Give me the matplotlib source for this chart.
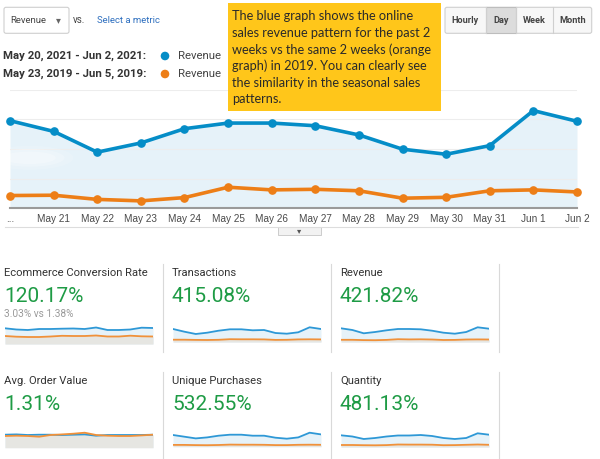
import matplotlib
matplotlib.use("Agg")
import matplotlib.pyplot as plt
from matplotlib.patches import Rectangle, FancyBboxPatch, Ellipse, Circle
import numpy as np

# ---------------- data ----------------
days = ["May 20", "May 21", "May 22", "May 23", "May 24", "May 25", "May 26",
        "May 27", "May 28", "May 29", "May 30", "May 31", "Jun 1", "Jun 2"]
tick_labels = ["...", "May 21", "May 22", "May 23", "May 24", "May 25", "May 26",
               "May 27", "May 28", "May 29", "May 30", "May 31", "Jun 1", "Jun 2"]
rev_2021 = [2950, 2590, 1890, 2200, 2680, 2870, 2870, 2780, 2470, 1990, 1820, 2110, 3290, 2930]
rev_2019 = [430, 440, 300, 250, 360, 710, 620, 640, 590, 340, 370, 590, 620, 550]

panel_titles = ["Ecommerce Conversion Rate", "Transactions", "Revenue",
                "Avg. Order Value", "Unique Purchases", "Quantity"]
panel_values = ["120.17%", "415.08%", "421.82%", "1.31%", "532.55%", "481.13%"]
panel_sub = ["3.03% vs 1.38%", "", "", "", "", ""]

spark_2021 = [
    [15.7, 14.5, 14, 15, 15, 15.3, 15.5, 15, 16.5, 14, 14, 14.5, 16.3, 16],
    [13, 10.3, 8, 9.3, 11.3, 12.7, 12.7, 11.7, 12, 9, 8.3, 9.7, 14.7, 13],
    [13.7, 12, 8.7, 10, 11.7, 13, 13, 12.7, 11.3, 9.3, 8.3, 10, 14.7, 13.3],
    [13, 13.3, 12.7, 13, 13, 12.7, 13, 13.3, 12, 12.7, 12.7, 12.7, 12.7, 13],
    [11.7, 10, 8.3, 9.3, 11, 12, 12, 11, 11, 9, 8, 9.3, 14, 12.3],
    [11.7, 10.5, 8, 9, 10.5, 11.5, 11.5, 12, 11, 9, 8, 9, 13.7, 12.3],
]
spark_2019 = [
    [8, 7.3, 7, 7, 7.5, 8.2, 8, 8, 8.5, 7.5, 7.5, 8.3, 7.7, 7.5],
    [2.3, 2.3, 2.1, 2.0, 2.2, 2.8, 2.7, 2.7, 2.6, 2.1, 2.2, 2.6, 2.7, 2.6],
    [2.2, 2.2, 1.9, 1.8, 2.1, 2.8, 2.6, 2.7, 2.5, 2.0, 2.1, 2.5, 2.6, 2.5],
    [11.7, 12, 11.7, 11, 12.7, 13.3, 14, 15, 12.7, 12, 11.7, 11.7, 12.3, 13],
    [1.8, 1.8, 1.6, 1.5, 1.7, 2.1, 2.0, 2.0, 1.9, 1.6, 1.6, 1.9, 2.0, 1.9],
    [2.0, 2.0, 1.8, 1.7, 1.9, 2.5, 2.4, 2.4, 2.3, 1.8, 1.9, 2.2, 2.5, 2.2],
]

note_lines = ["The blue graph shows the online", "sales revenue pattern for the past 2",
              "weeks vs the same 2 weeks (orange", "graph) in 2019. You can clearly see",
              "the similarity in the seasonal sales", "patterns."]

# ---------------- style ----------------
BLUE = "#058DC7"
ORANGE = "#ED7E17"
FILL_BLUE = "#E6F2F9"
FILL_GRAY = "#E6E6E2"
GREEN = "#1E9B45"
W, H = 600, 459

fig = plt.figure(figsize=(6, 4.59), dpi=100)
fig.patch.set_facecolor("white")


def px_axes(x0, y0, x1, y1, **kw):
    """axes from pixel box (top-left origin)"""
    return fig.add_axes([x0 / W, 1 - y1 / H, (x1 - x0) / W, (y1 - y0) / H], **kw)


# ---------------- main chart ----------------
ax = px_axes(10, 89.5, 577, 208.3)
x = np.arange(len(days))
ax.set_xlim(0, len(days) - 1)
ax.set_ylim(0, 4000)
ax.fill_between(x, rev_2021, 0, color=FILL_BLUE, zorder=1, lw=0)
for g in [1000, 2000, 3000, 4000]:
    ax.axhline(g, color="#EDEDED", lw=0.8, zorder=1.5)
for w_, h_, a_ in [(2.0, 800, 0.15), (1.6, 600, 0.2), (1.2, 420, 0.25)]:
    ax.add_patch(Ellipse((0.45, 1700), w_, h_, color="white", alpha=a_, zorder=1.6, lw=0))
ax.plot(x, rev_2019, color=ORANGE, lw=2.6, marker="o", ms=5.2, zorder=3, clip_on=False)
ax.plot(x, rev_2021, color=BLUE, lw=2.6, marker="o", ms=5.2, zorder=4, clip_on=False)
for s in ["top", "right", "left"]:
    ax.spines[s].set_visible(False)
ax.spines["bottom"].set_color("#9A9A9A")
ax.spines["bottom"].set_linewidth(1.5)
ax.set_yticks([])
ax.set_xticks(x)
ax.set_xticklabels(tick_labels, fontsize=7.2, color="#4A4A4A", family="Liberation Sans")
ax.tick_params(axis="x", length=0, pad=4)
ax.patch.set_alpha(0)

# ---------------- sparkline panels ----------------
panel_x = [(5, 153), (173, 321), (341, 489)]
row_bottom = [[344, 342, 342], [447.7, 446.7, 447]]
for i in range(6):
    r, c = divmod(i, 3)
    x0, x1 = panel_x[c]
    yb = row_bottom[r][c]
    sax = px_axes(x0, yb - 22, x1, yb)
    sx = np.arange(len(spark_2021[i]))
    sax.set_xlim(0, len(sx) - 1)
    sax.set_ylim(0, 22)
    sax.fill_between(sx, spark_2021[i], 0, color=FILL_BLUE, lw=0, zorder=1)
    sax.fill_between(sx, spark_2019[i], 0, color=FILL_GRAY, lw=0, zorder=2)
    sax.plot(sx, spark_2021[i], color="#2E98D6", lw=1.3, zorder=3)
    sax.plot(sx, spark_2019[i], color="#F0913A", lw=1.3, zorder=4)
    sax.axis("off")

# ---------------- overlay (text, boxes) ----------------
ov = fig.add_axes([0, 0, 1, 1], zorder=10)
ov.set_xlim(0, W)
ov.set_ylim(H, 0)
ov.axis("off")
ov.patch.set_alpha(0)

# metric dropdown
ov.add_patch(FancyBboxPatch((4, 7.3), 65, 26, boxstyle="round,pad=0,rounding_size=2",
                            fc="white", ec="#CFCFCF", lw=0.8))
ov.text(10, 20.5, "Revenue", fontsize=6.8, color="#444444", va="center", family="Roboto")
ov.text(58, 20.5, "\u25BE", fontsize=7, color="#666666", va="center", ha="center", family="DejaVu Sans")
ov.text(73, 20, "vs.", fontsize=7, color="#444444", va="center", family="Roboto")
ov.text(97, 20.5, "Select a metric", fontsize=6.8, color="#2E6FBF", va="center", family="Roboto")

# legend rows
ov.text(3, 56, "May 20, 2021 - Jun 2, 2021:", fontsize=8.2, color="#333333", va="center",
        fontweight="bold", family="Roboto")
ov.text(3, 74, "May 23, 2019 - Jun 5, 2019:", fontsize=8.2, color="#333333", va="center",
        fontweight="bold", family="Roboto")
ov.add_patch(Circle((165, 56), 3.6, color=BLUE))
ov.add_patch(Circle((165, 74), 3.6, color=ORANGE))
ov.text(178, 56, "Revenue", fontsize=8.2, color="#444444", va="center", family="Roboto")
ov.text(178, 74, "Revenue", fontsize=8.2, color="#444444", va="center", family="Roboto")

# annotation box
ov.add_patch(Rectangle((228.3, 2.7), 212.4, 108.3, fc="#FFC61A", ec="none"))
for k, line in enumerate(note_lines):
    ov.text(232, 16 + 16.65 * k, line, fontsize=9.2, color="#2A2A2A", va="center",
            ha="left", family="Lato")

# period buttons
btn_edges = [445, 485.7, 516, 553.3, 591.7]
btn_labels = ["Hourly", "Day", "Week", "Month"]
ov.add_patch(FancyBboxPatch((445, 7.3), 146.7, 26, boxstyle="round,pad=0,rounding_size=2",
                            fc="#F7F7F7", ec="#CFCFCF", lw=0.8))
ov.add_patch(Rectangle((485.7, 7.3), 30.3, 26, fc="#DCDCDC", ec="#BDBDBD", lw=0.8))
for e in btn_edges[1:-1]:
    ov.plot([e, e], [7.3, 33.3], color="#CFCFCF", lw=0.8)
for k, lab in enumerate(btn_labels):
    cx = (btn_edges[k] + btn_edges[k + 1]) / 2
    ov.text(cx, 20.3, lab, fontsize=6.6, fontweight="bold", color="#444444",
            ha="center", va="center", family="Roboto")

# line under chart + collapse tab
ov.plot([5, 578], [227, 227], color="#DDDDDD", lw=0.8)
ov.add_patch(Rectangle((278, 227), 43, 8, fc="#F2F2F2", ec="#CCCCCC", lw=0.7))
ov.text(299.5, 230.6, "\u25BE", fontsize=6, color="#555555", ha="center", va="center",
        family="DejaVu Sans")

# panel texts
title_y = [273, 381]
num_y = [297, 404]
for i in range(6):
    r, c = divmod(i, 3)
    tx = [4, 172, 340][c]
    ov.text(tx, title_y[r], panel_titles[i], fontsize=8.1, color="#333333", va="center",
            family="Roboto")
    ov.text(tx, num_y[r], panel_values[i], fontsize=15, color=GREEN, va="center",
            family="Roboto")
    if panel_sub[i]:
        ov.text(tx, num_y[r] + 17, panel_sub[i], fontsize=7.3, color="#9A9A9A",
                va="center", family="Roboto")

# separators
for sx in [163, 331, 499]:
    ov.plot([sx, sx], [264, 352], color="#D9D9D9", lw=0.8)
    ov.plot([sx, sx], [372, 459], color="#D9D9D9", lw=0.8)

fig.savefig("out.png", dpi=100, facecolor="white")
